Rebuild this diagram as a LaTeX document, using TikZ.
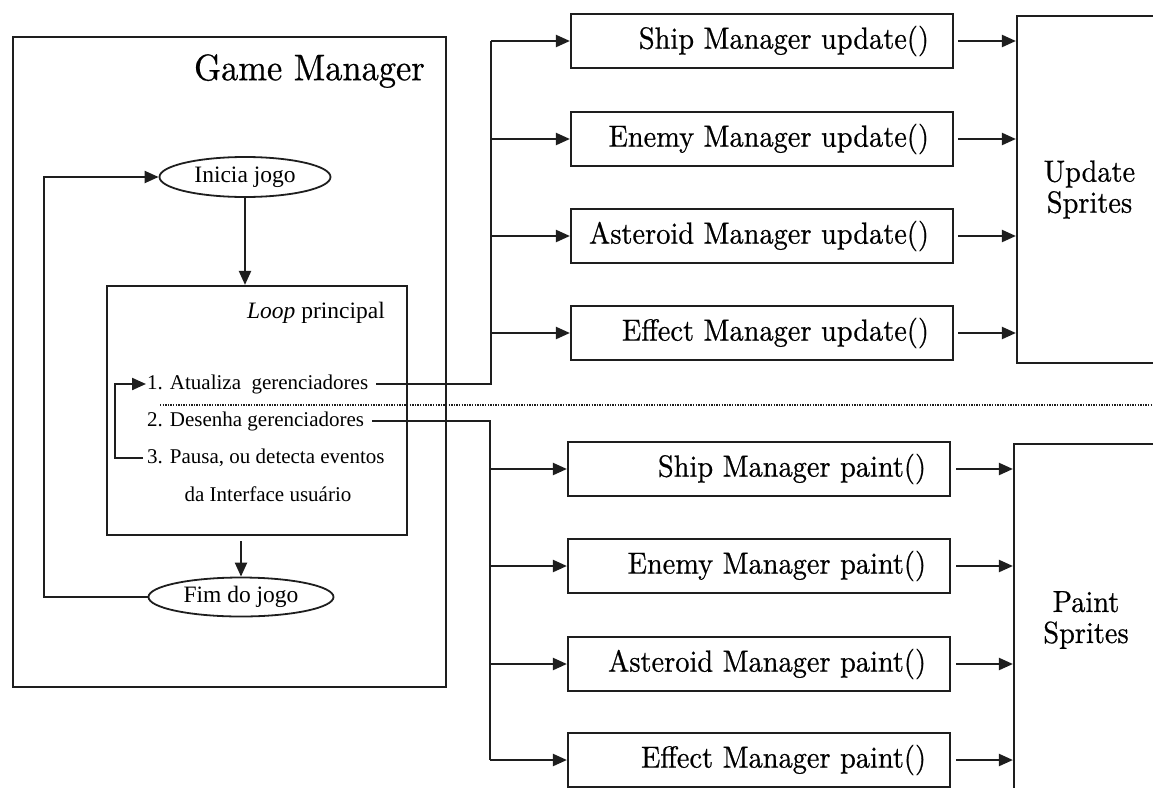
\documentclass[tikz,border=0pt]{standalone}
\usepackage{fontspec}
\newfontfamily\tms{Liberation Serif}
\newfontfamily\cent{lmroman10-regular.otf}[FakeBold=0.6,FakeStretch=0.93]
\usetikzlibrary{arrows.meta,shapes.geometric}
\definecolor{ink}{RGB}{30,30,30}
% right-aligned label inside a manager box, never wrapped
\newcommand\rtext[1]{\makebox[334pt][r]{#1}}
\begin{document}
\begin{tikzpicture}[x=1pt,y=-1pt,
  wire/.style={draw=ink, line width=2.2pt},
  arr/.style={wire, -{Triangle[length=14pt,width=12pt]}},
  box/.style={draw=ink, line width=2.2pt, rectangle, inner sep=0pt},
  mgr/.style={box, minimum width=382pt, minimum height=54pt,
    font=\cent\fontsize{30.5}{33}\selectfont},
  sprite/.style={box, align=center, font=\cent\fontsize{30.5}{31}\selectfont},
  oval/.style={ellipse, draw=ink, line width=1.8pt, inner sep=0pt,
    font=\tms\fontsize{23.5}{28}\selectfont},
  txt/.style={inner sep=0pt, anchor=west, font=\tms\fontsize{21}{24}\selectfont}]
\useasboundingbox (0,0) rectangle (1153,787);
\clip (0,0) rectangle (1153,787);

% --- game manager block ---
\node[box, minimum width=433pt, minimum height=650pt] (gm) at (229.5,362) {};
\node[anchor=east, inner sep=0pt, font=\cent\fontsize{37}{40}\selectfont] (gmt) at (425,71) {Game Manager};
\node[oval, minimum width=171pt, minimum height=40pt] (ini) at (245,177) {Inicia jogo};
\node[box, minimum width=300pt, minimum height=249pt] (loop) at (257,410.5) {};
\node[anchor=east, inner sep=0pt, font=\tms\fontsize{23.5}{26}\selectfont] (loopt) at (385,313) {\textit{Loop} principal};
\node[txt] (t1) at (147,384) {1. Atualiza\ \ gerenciadores};
\node[txt] (t2) at (147,421) {2. Desenha gerenciadores};
\node[txt] (t3) at (147,458) {3. Pausa, ou detecta eventos};
\node[txt, anchor=center] (t4) at (268,494) {da Interface usuário};
\node[oval, minimum width=185pt, minimum height=39pt] (fim) at (241,597) {Fim do jogo};

% --- manager calls ---
\node[mgr] (su1) at (762,41)  {\rtext{Ship Manager update()}};
\node[mgr] (su2) at (762,139) {\rtext{Enemy Manager update()}};
\node[mgr] (su3) at (762,236) {\rtext{Asteroid Manager update()}};
\node[mgr] (su4) at (762,333) {\rtext{Effect Manager update()}};
\node[mgr] (sp1) at (759,469) {\rtext{Ship Manager paint()}};
\node[mgr] (sp2) at (759,566) {\rtext{Enemy Manager paint()}};
\node[mgr] (sp3) at (759,664) {\rtext{Asteroid Manager paint()}};
\node[mgr] (sp4) at (759,760) {\rtext{Effect Manager paint()}};

\node[sprite, minimum width=145pt, minimum height=347pt] (us) at (1089.5,189.5) {Update\\Sprites};
\node[sprite, minimum width=144pt, minimum height=352pt] (ps) at (1086,620) {Paint\\Sprites};

% --- routing helpers ---
\coordinate (busU) at (491,0);
\coordinate (busP) at (490,0);
\coordinate (fbL) at (115,0);
\coordinate (bigL) at (44,0);
\coordinate (dotL) at (160,405);
\coordinate (dotR) at (1153,405);

% --- game loop ---
\draw[arr] (ini.south) -- (ini.south |- loop.north);
\draw[arr] ([yshift=-5pt]loop.south -| fim.north) -- (fim.north);
\draw[arr] (fim.west) -- (fim.west -| bigL) -- (ini.west -| bigL) -- (ini.west);
\draw[arr] ([xshift=-4pt]t3.west) -- (t3.west -| fbL) -- (t1.west -| fbL) -- ([xshift=-1pt]t1.west);

% --- update branch ---
\draw[wire] ([xshift=8pt]t1.east) -- (t1.east -| busU) -- (busU |- su1.west);
\foreach \n in {su1,su2,su3,su4} {
  \draw[arr] (busU |- \n.west) -- (\n.west);
  \draw[arr] ([xshift=4pt]\n.east) -- (\n.east -| us.west);
}

% --- paint branch ---
\draw[wire] ([xshift=8pt]t2.east) -- (t2.east -| busP) -- (busP |- sp4.west);
\foreach \n in {sp1,sp2,sp3,sp4} {
  \draw[arr] (busP |- \n.west) -- (\n.west);
  \draw[arr] ([xshift=5pt]\n.east) -- (\n.east -| ps.west);
}

% --- separator between update and paint phases ---
\draw[ink, line width=1.3pt, dash pattern=on 1.3pt off 1.3pt] (dotL) -- (dotR);
\end{tikzpicture}
\end{document}
